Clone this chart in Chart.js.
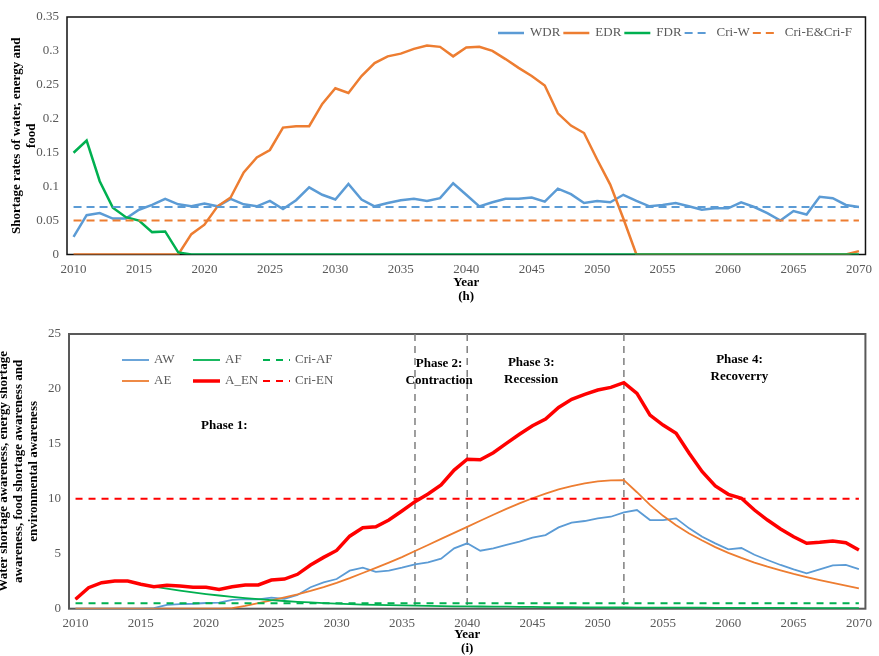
<!DOCTYPE html>
<html>
<head>
<meta charset="utf-8">
<script src="https://cdn.jsdelivr.net/npm/chart.js@4.4.0/dist/chart.umd.min.js"></script>
<style>
    html, body { margin: 0; padding: 0; background: #fff; }
    .panel { position: absolute; left: 0; width: 879px; }
    #top { top: 0; height: 304px; }
    #bottom { top: 318px; height: 338px; }
</style>
</head>
<body>
<div class="panel" id="top"><canvas id="ratesChart"></canvas></div>
<div class="panel" id="bottom"><canvas id="awarenessChart"></canvas></div>
<script>
const years = [
    2010, 2011, 2012, 2013, 2014, 2015, 2016, 2017, 2018, 2019,
    2020, 2021, 2022, 2023, 2024, 2025, 2026, 2027, 2028, 2029,
    2030, 2031, 2032, 2033, 2034, 2035, 2036, 2037, 2038, 2039,
    2040, 2041, 2042, 2043, 2044, 2045, 2046, 2047, 2048, 2049,
    2050, 2051, 2052, 2053, 2054, 2055, 2056, 2057, 2058, 2059,
    2060, 2061, 2062, 2063, 2064, 2065, 2066, 2067, 2068, 2069,
    2070,
];

// (h) shortage rates
const wdr = [
    0.026, 0.058, 0.061, 0.053, 0.053, 0.066, 0.073, 0.082, 0.074, 0.071,
    0.075, 0.071, 0.082, 0.074, 0.071, 0.079, 0.067, 0.080, 0.099, 0.088,
    0.081, 0.104, 0.081, 0.071, 0.076, 0.080, 0.082, 0.079, 0.083, 0.105,
    0.088, 0.071, 0.077, 0.082, 0.082, 0.084, 0.078, 0.097, 0.089, 0.076,
    0.079, 0.077, 0.088, 0.079, 0.071, 0.073, 0.076, 0.071, 0.066, 0.068,
    0.068, 0.077, 0.070, 0.061, 0.050, 0.064, 0.059, 0.085, 0.083, 0.073,
    0.070,
];
const edr = [
    0, 0, 0, 0, 0, 0, 0, 0, 0, 0.030,
    0.044, 0.071, 0.084, 0.121, 0.143, 0.154, 0.187, 0.189, 0.189, 0.222,
    0.245, 0.238, 0.263, 0.282, 0.292, 0.296, 0.303, 0.308, 0.306, 0.292,
    0.305, 0.306, 0.300, 0.288, 0.275, 0.263, 0.249, 0.208, 0.190, 0.179,
    0.140, 0.103, 0.053, 0, 0, 0, 0, 0, 0, 0,
    0, 0, 0, 0, 0, 0, 0, 0, 0, 0,
    0.005,
];
const fdr = [
    0.150, 0.168, 0.108, 0.069, 0.055, 0.050, 0.033, 0.034, 0.003, 0,
    0, 0, 0, 0, 0, 0, 0, 0, 0, 0,
    0, 0, 0, 0, 0, 0, 0, 0, 0, 0,
    0, 0, 0, 0, 0, 0, 0, 0, 0, 0,
    0, 0, 0, 0, 0, 0, 0, 0, 0, 0,
    0, 0, 0, 0, 0, 0, 0, 0, 0, 0,
    0,
];
const criW = 0.07;
const criEF = 0.05;

// (i) awareness
const aw = [
    0, 0, 0, 0, 0, 0, 0.05, 0.35, 0.42, 0.45,
    0.52, 0.55, 0.80, 0.88, 0.85, 1.00, 0.90, 1.25, 1.95, 2.40,
    2.70, 3.46, 3.73, 3.35, 3.46, 3.73, 4.04, 4.22, 4.55, 5.49,
    5.95, 5.28, 5.49, 5.80, 6.10, 6.46, 6.70, 7.40, 7.83, 7.98,
    8.22, 8.37, 8.77, 8.98, 8.07, 8.07, 8.22, 7.31, 6.55, 5.95,
    5.40, 5.52, 4.91, 4.43, 3.98, 3.58, 3.22, 3.58, 3.95, 3.98,
    3.61,
];
const ae = [
    0, 0, 0, 0, 0, 0, 0, 0, 0, 0,
    0, 0, 0.05, 0.25, 0.50, 0.76, 1.02, 1.30, 1.62, 1.97,
    2.35, 2.78, 3.25, 3.72, 4.20, 4.70, 5.25, 5.80, 6.35, 6.90,
    7.45, 8.00, 8.55, 9.08, 9.58, 10.05, 10.48, 10.85, 11.15, 11.40,
    11.58, 11.68, 11.70, 10.60, 9.45, 8.45, 7.60, 6.85, 6.20, 5.60,
    5.08, 4.62, 4.20, 3.82, 3.48, 3.16, 2.87, 2.60, 2.34, 2.10,
    1.85,
];
const af = [
    0.86, 1.91, 2.37, 2.52, 2.52, 2.22, 2.00, 1.82, 1.65, 1.48,
    1.33, 1.20, 1.08, 0.97, 0.87, 0.78, 0.70, 0.63, 0.57, 0.51,
    0.46, 0.42, 0.38, 0.35, 0.32, 0.30, 0.28, 0.26, 0.24, 0.22,
    0.21, 0.20, 0.19, 0.18, 0.17, 0.16, 0.15, 0.14, 0.13, 0.12,
    0.12, 0.11, 0.11, 0.10, 0.10, 0.10, 0.09, 0.09, 0.09, 0.08,
    0.08, 0.08, 0.07, 0.07, 0.07, 0.07, 0.06, 0.06, 0.06, 0.06,
    0.05,
];
const aEN = [
    0.86, 1.91, 2.37, 2.52, 2.52, 2.22, 2.00, 2.13, 2.07, 1.95,
    1.95, 1.76, 2.00, 2.16, 2.16, 2.61, 2.70, 3.13, 3.98, 4.67,
    5.30, 6.60, 7.37, 7.46, 8.07, 8.89, 9.74, 10.44, 11.26, 12.62,
    13.60, 13.56, 14.20, 15.05, 15.87, 16.65, 17.26, 18.32, 19.05, 19.51,
    19.90, 20.14, 20.57, 19.60, 17.62, 16.71, 15.96, 14.14, 12.47, 11.17,
    10.41, 10.05, 8.98, 8.07, 7.25, 6.55, 5.95, 6.04, 6.16, 6.00,
    5.34,
];
const criAF = 0.5;
const criEN = 10;

const phaseYears = [2036, 2040, 2052];
const phaseNotes = [
    { year: 2021.4, value: 16.65, text: ['Phase 1:'] },
    { year: 2037.85, value: 22.27, text: ['Phase 2:', 'Contraction'] },
    { year: 2044.9, value: 22.35, text: ['Phase 3:', 'Recession'] },
    { year: 2060.85, value: 22.63, text: ['Phase 4:', 'Recoverry'] },
];

const serif = '"Liberation Serif", "Times New Roman", serif';
const tickGray = '#595959';
const labels = years.map(String);
const firstYear = labels[0];
const lastYear = labels[labels.length - 1];

Chart.defaults.font.family = serif;
Chart.defaults.font.size = 13;
Chart.defaults.color = tickGray;

const line = (label, data, color, width, dash, order) => ({
    label,
    data,
    borderColor: color,
    backgroundColor: color,
    borderWidth: width,
    borderDash: dash || [],
    pointRadius: 0,
    pointHoverRadius: 0,
    tension: 0,
    fill: false,
    order,
});

const flat = (value) => [{ x: firstYear, y: value }, { x: lastYear, y: value }];

// box around the plot area
const framePlugin = {
    id: 'frame',
    beforeDatasetsDraw(chart, args, opts) {
        const { ctx, chartArea: a } = chart;
        ctx.save();
        ctx.strokeStyle = opts.color;
        ctx.lineWidth = opts.width;
        ctx.strokeRect(a.left, a.top, a.right - a.left, a.bottom - a.top);
        ctx.restore();
    },
};

// legend drawn inside the plot, either in one row or as a grid
const insideLegend = {
    id: 'insideLegend',
    afterDatasetsDraw(chart, args, opts) {
        const { ctx } = chart;
        ctx.save();
        ctx.font = '13px ' + serif;
        ctx.textBaseline = 'middle';
        let cursor = opts.x;
        chart.data.datasets.forEach((ds, i) => {
            let px = cursor;
            let py = opts.y;
            if (opts.cols) {
                px = opts.cols[Math.floor(i / opts.rows.length)];
                py = opts.rows[i % opts.rows.length];
            }
            ctx.strokeStyle = ds.borderColor;
            ctx.lineWidth = ds.borderWidth;
            ctx.setLineDash(ds.borderDash || []);
            ctx.beginPath();
            ctx.moveTo(px, py);
            ctx.lineTo(px + opts.sample, py);
            ctx.stroke();
            ctx.setLineDash([]);
            ctx.fillStyle = tickGray;
            ctx.fillText(ds.label, px + opts.sample + opts.gap, py);
            cursor = px + opts.sample + opts.gap + ctx.measureText(ds.label).width + opts.spacing;
        });
        ctx.restore();
    },
};

// phase boundaries and their captions
const phasePlugin = {
    id: 'phases',
    beforeDatasetsDraw(chart) {
        const { ctx, chartArea: a, scales: { x, y } } = chart;
        ctx.save();
        ctx.strokeStyle = '#7f7f7f';
        ctx.lineWidth = 1.5;
        ctx.setLineDash([7, 5]);
        phaseYears.forEach((yr) => {
            const px = x.getPixelForValue(years.indexOf(yr));
            ctx.beginPath();
            ctx.moveTo(px, a.top);
            ctx.lineTo(px, a.bottom);
            ctx.stroke();
        });
        ctx.setLineDash([]);
        ctx.font = 'bold 13px ' + serif;
        ctx.fillStyle = '#000';
        ctx.textAlign = 'center';
        ctx.textBaseline = 'middle';
        phaseNotes.forEach((n) => {
            const px = x.getPixelForValue(n.year - years[0]);
            const py = y.getPixelForValue(n.value);
            n.text.forEach((t, i) => ctx.fillText(t, px, py + i * 16.5));
        });
        ctx.restore();
    },
};

const xAxis = (caption, height) => ({
    type: 'category',
    offset: true,
    grid: { display: false, drawTicks: false },
    border: { display: false },
    ticks: {
        autoSkip: false,
        maxRotation: 0,
        padding: 7,
        color: tickGray,
        callback: (value, index) => ((years[index] - years[0]) % 5 === 0 ? String(years[index]) : ''),
    },
    title: {
        display: true,
        text: ['Year', caption],
        color: '#000',
        font: { weight: 'bold', size: 13, lineHeight: '14px' },
        padding: { top: 0, bottom: 0 },
    },
    afterFit: (scale) => { scale.height = height; },
});

const yAxis = (max, step, text, padTop, width) => ({
    min: 0,
    max,
    grid: { display: false, drawTicks: false },
    border: { display: false },
    ticks: {
        stepSize: step,
        padding: 8,
        color: tickGray,
        callback: (value) => String(Number(value.toFixed(2))),
    },
    title: {
        display: true,
        text,
        color: '#000',
        font: { weight: 'bold', size: 13, lineHeight: '15px' },
        padding: { top: padTop, bottom: 0 },
    },
    afterFit: (scale) => { scale.width = width; },
});

new Chart(document.getElementById('ratesChart'), {
    type: 'line',
    data: {
        labels,
        datasets: [
            line('WDR', wdr, '#5B9BD5', 2.5, null, 0),
            line('EDR', edr, '#ED7D31', 2.5, null, -1),
            line('FDR', fdr, '#00B050', 2.5, null, -2),
            line('Cri-W', flat(criW), '#5B9BD5', 2, [8, 5], -3),
            line('Cri-E&Cri-F', flat(criEF), '#ED7D31', 2, [8, 5], -4),
        ],
    },
    options: {
        responsive: true,
        maintainAspectRatio: false,
        animation: false,
        layout: { padding: { top: 17, right: 8, bottom: 0, left: 0 } },
        plugins: {
            legend: { display: false },
            tooltip: { enabled: false },
            frame: { color: '#111', width: 1.5 },
            insideLegend: { x: 498, y: 33, sample: 26, gap: 6, spacing: 3 },
        },
        scales: {
            x: xAxis('(h)', 49.5),
            y: yAxis(0.35, 0.05, ['Shortage rates of water, energy and', 'food'], 9, 67),
        },
    },
    plugins: [framePlugin, insideLegend],
});

new Chart(document.getElementById('awarenessChart'), {
    type: 'line',
    data: {
        labels,
        datasets: [
            line('AW', aw, '#5B9BD5', 1.8, null, 0),
            line('AE', ae, '#ED7D31', 1.8, null, -1),
            line('AF', af, '#00B050', 1.8, null, -2),
            line('A_EN', aEN, '#FF0000', 3.5, null, -3),
            line('Cri-AF', flat(criAF), '#00B050', 2, [7, 6], -4),
            line('Cri-EN', flat(criEN), '#FF0000', 2, [7, 6], -5),
        ],
    },
    options: {
        responsive: true,
        maintainAspectRatio: false,
        animation: false,
        layout: { padding: { top: 16, right: 13, bottom: 0, left: 0 } },
        plugins: {
            legend: { display: false },
            tooltip: { enabled: false },
            frame: { color: '#595959', width: 2 },
            insideLegend: { cols: [122, 193, 263], rows: [42, 63], sample: 27, gap: 5, spacing: 0 },
        },
        scales: {
            x: xAxis('(i)', 47.3),
            y: yAxis(25, 5, [
                'Water shortage awareness, energy shortage',
                'awareness, food shortage awareness and',
                'environmental awareness',
            ], -4, 69),
        },
    },
    plugins: [framePlugin, phasePlugin, insideLegend],
});
</script>
</body>
</html>
